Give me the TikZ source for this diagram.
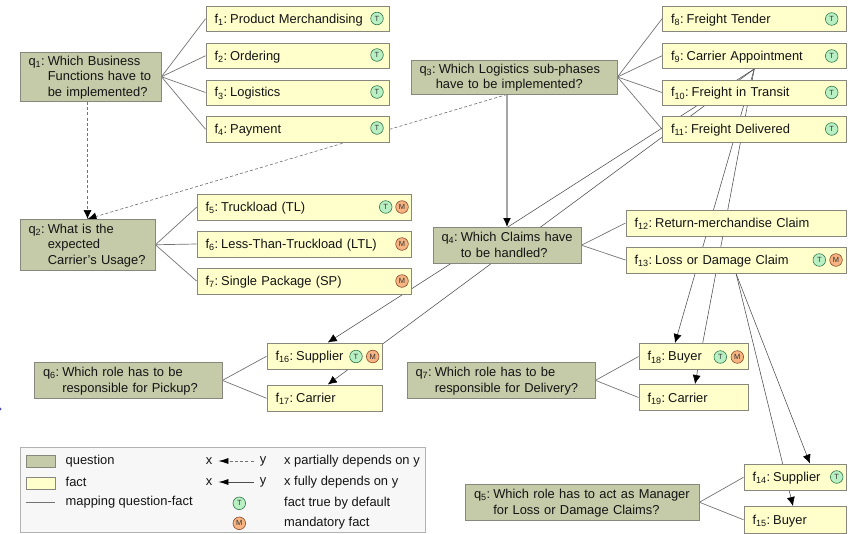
\documentclass[tikz,border=0pt]{standalone}
\usepackage{fontspec}
\setmainfont{Liberation Sans}
\usetikzlibrary{arrows.meta,calc,backgrounds}
\definecolor{qfill}{RGB}{197,203,168}
\definecolor{ffill}{RGB}{255,255,204}
\definecolor{bord}{RGB}{135,135,125}
\definecolor{tfill}{RGB}{185,240,195}
\definecolor{tbord}{RGB}{50,120,75}
\definecolor{mfill}{RGB}{245,180,130}
\definecolor{mbord}{RGB}{140,75,45}
\tikzset{
  txt/.style={font=\fontsize{12.9}{15.7}\selectfont,text=black!92},
  boxbase/.style={txt,draw=bord,line width=0.9pt,inner xsep=8.5pt,inner ysep=0pt,align=left},
  qbox/.style={boxbase,fill=qfill},
  fbox/.style={boxbase,fill=ffill},
  tdot/.style={circle,draw=tbord,fill=tfill,line width=0.6pt,minimum size=12.6pt,inner sep=0pt,font=\fontsize{7.5}{7.5}\selectfont,text=black!80},
  mdot/.style={circle,draw=mbord,fill=mfill,line width=0.6pt,minimum size=12.6pt,inner sep=0pt,font=\fontsize{7.5}{7.5}\selectfont,text=black!80},
  mapline/.style={draw=black!55,line width=0.7pt},
  dep/.style={draw=black!70,line width=0.55pt,-{Latex[length=9pt,width=8pt,black]}},
  depthick/.style={draw=black!35,line width=1.3pt,-{Latex[length=9pt,width=8pt,black]}},
  pdep/.style={draw=black!55,line width=0.65pt,dash pattern=on 3pt off 2.2pt,-{Latex[length=9pt,width=8pt,black]}},
  legbox/.style={draw=black!30,fill=black!3,line width=0.9pt},
  legtxt/.style={txt,anchor=west,inner sep=0pt},
  legxy/.style={txt,inner ysep=0pt,inner xsep=6pt},
  legdep/.style={draw=black!70,line width=0.7pt,-{Latex[length=10pt,width=6pt,black]}},
  legpdep/.style={draw=black!55,line width=0.7pt,dash pattern=on 3pt off 2.2pt,-{Latex[length=10pt,width=6pt,black]}},
}
\newcommand{\bx}[7]{%
  \pgfmathsetmacro\bxtw{#5-#3-17}%
  \node[#1,text width=\bxtw pt,minimum width={(#5-#3)*1pt},minimum height={(#6-#4)*1pt}]
     (#2) at ({(#3+#5)/2},{(#4+#6)/2}) {\makebox[\bxtw pt][l]{\raisebox{-1pt}[\height][\depth]{#7}}};}
\newcommand{\lab}[2]{#1\textsubscript{#2}:\hspace{3pt}}
\newcommand{\hang}[1]{\begin{tabular}[t]{@{}l@{}}#1\end{tabular}}
\begin{document}
\begin{tikzpicture}[x=1pt,y=-1pt]
\useasboundingbox (0,0) rectangle (850,533);
% questions
\bx{qbox}{q1}{20}{52}{161}{101.5}{\lab{q}{1}\hang{Which Business\\Functions have to\\be implemented?}}
\bx{qbox}{q2}{20}{219.5}{155}{270}{\lab{q}{2}\hang{What is the\\expected\\Carrier's Usage?}}
\bx{qbox}{q3}{411}{60}{617}{94}{\lab{q}{3}\hang{Which Logistics sub-phases\\\hspace*{-3pt}have to be implemented?}}
\bx{qbox}{q4}{433}{227.5}{581}{263}{\lab{q}{4}\hang{Which Claims have\\to be handled?}}
\bx{qbox}{q5}{465.5}{484.5}{699}{520}{\lab{q}{5}\hang{Which role has to act as Manager\\for Loss or Damage Claims?}}
\bx{qbox}{q6}{34.5}{362.7}{222}{398}{\lab{q}{6}\hang{Which role has to be\\responsible for Pickup?}}
\bx{qbox}{q7}{407}{362.7}{595}{398}{\lab{q}{7}\hang{Which role has to be\\responsible for Delivery?}}
% facts
\bx{fbox}{f1}{206}{6}{389}{31.5}{\lab{f}{1}Product Merchandising}
\bx{fbox}{f2}{206}{43}{389}{68.5}{\lab{f}{2}Ordering}
\bx{fbox}{f3}{206}{80}{389}{105}{\lab{f}{3}Logistics}
\bx{fbox}{f4}{206}{116.5}{389}{142}{\lab{f}{4}Payment}
\bx{fbox}{f5}{197}{194.5}{411}{220}{\lab{f}{5}Truckload (TL)}
\bx{fbox}{f6}{197}{231}{411}{257}{\lab{f}{6}Less-Than-Truckload (LTL)}
\bx{fbox}{f7}{197}{268}{411}{294}{\lab{f}{7}Single Package (SP)}
\bx{fbox}{f8}{662.5}{6}{846}{31.5}{\lab{f}{8}Freight Tender}
\bx{fbox}{f9}{662.5}{43}{846}{68.5}{\lab{f}{9}Carrier Appointment}
\bx{fbox}{f10}{662.5}{80}{846}{105}{\lab{f}{10}Freight in Transit}
\bx{fbox}{f11}{662.5}{116.5}{846}{142}{\lab{f}{11}Freight Delivered}
\bx{fbox}{f12}{626}{210}{846}{236}{\lab{f}{12}Return-merchandise Claim}
\bx{fbox}{f13}{626}{247}{846}{273}{\lab{f}{13}Loss or Damage Claim}
\bx{fbox}{f14}{744}{464}{846}{490.5}{\lab{f}{14}Supplier}
\bx{fbox}{f15}{744}{506.5}{846}{533}{\lab{f}{15}Buyer}
\bx{fbox}{f16}{267}{343}{382.5}{369.5}{\lab{f}{16}Supplier}
\bx{fbox}{f17}{267}{385}{382.5}{411.5}{\lab{f}{17}Carrier}
\bx{fbox}{f18}{639}{343.5}{748}{369.5}{\lab{f}{18}Buyer}
\bx{fbox}{f19}{639}{384.5}{748}{410.5}{\lab{f}{19}Carrier}
% fact icons
\foreach \n/\px/\py in {a/377/18.5,b/377/55,c/377/92,d/377/128,e/385.7/207,f/831.7/19,g/831.7/56,h/831.7/92.5,i/831.7/129,j/819.3/260,k/836.7/477,l/356/356.5,m/720.3/357}
  \node[tdot] (t\n) at (\px,\py) {T};
\foreach \n/\px/\py in {a/402/207,b/402/244,c/402/281,d/836/260,e/372.7/356.5,f/737.3/357}
  \node[mdot] (m\n) at (\px,\py) {M};
% connectors under the boxes
\begin{pgfonlayer}{background}
\foreach \q/\f in {q1/f1,q1/f2,q1/f3,q1/f4,q2/f5,q2/f6,q2/f7,q3/f8,q3/f9,q3/f10,q3/f11,q4/f12,q4/f13,q5/f14,q5/f15,q6/f16,q6/f17,q7/f18,q7/f19}
  \draw[mapline] (\q.east) -- (\f.west);
\draw[pdep] (q2.north |- q1.south) -- (q2.north);
\draw[pdep] ($(q3.south)+(-7,0)$) -- (q2.north);
\draw[depthick] (q4.north |- q3.south) -- (q4.north);
\draw[dep] (f9.south) -- ($(f16.north)+(3,0)$);
\draw[dep] (f9.south) -- ($(f17.north)+(3,0)$);
\draw[dep] (f9.south) -- ($(f18.north)+(-18.5,0)$);
\draw[dep] (f9.south) -- ($(f19.north)+(1.5,0)$);
\draw[dep] (f13.south) -- ($(f14.north)+(15,0)$);
\draw[dep] (f13.south) -- ($(f15.north)+(-2,0)$);
\end{pgfonlayer}
% legend
\begin{scope}[on background layer]
\node[legbox,minimum width=405pt,minimum height=84.5pt,inner sep=0pt] (leg) at (222.5,490) {};
\end{scope}
\node[draw=bord,fill=qfill,line width=0.9pt,minimum width=29pt,minimum height=11.5pt,inner sep=0pt] (lq) at (40.5,461.5) {};
\node[draw=bord,fill=ffill,line width=0.9pt,minimum width=29pt,minimum height=12pt,inner sep=0pt] (lf) at (40.5,483) {};
\coordinate (lma) at (26,502);
\coordinate (lmb) at (55,502);
\draw[mapline] (lma) -- (lmb);
\node[legtxt] (l1) at (65.5,461.5) {question};
\node[legtxt] (l2) at (65.5,482) {fact};
\node[legtxt] (l3) at (65.5,502.5) {mapping question-fact};
\node[legxy] (lx1) at (209,461) {x};
\node[legxy] (ly1) at (263,461) {y};
\node[legxy] (lx2) at (209,482) {x};
\node[legxy] (ly2) at (263,482) {y};
\draw[legpdep] (ly1) -- (lx1);
\draw[legdep] (ly2) -- (lx2);
\node[tdot] (lt) at (239.3,503.3) {T};
\node[mdot] (lm) at (239.3,523.3) {M};
\node[legtxt] (l4) at (284,461.5) {x partially depends on y};
\node[legtxt] (l5) at (284,482) {x fully depends on y};
\node[legtxt] (l6) at (284,503) {fact true by default};
\node[legtxt] (l7) at (284,523) {mandatory fact};
\fill[blue!60!black!70] (0,409) circle (1.6pt);
\end{tikzpicture}
\end{document}
